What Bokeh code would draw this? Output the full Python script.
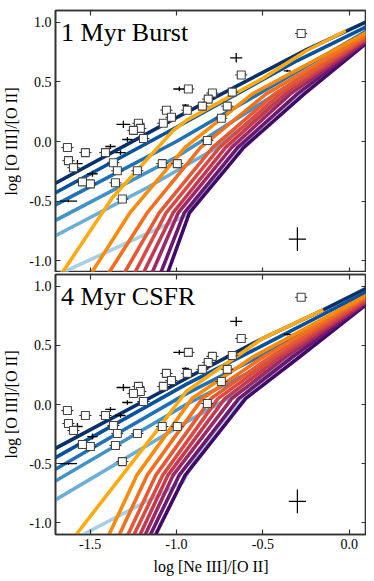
import numpy as np
from bokeh.plotting import figure
from bokeh.models import Range1d, LinearAxis, FixedTicker, PrintfTickFormatter, Label
from bokeh.layouts import column
from bokeh.embed import file_html
from bokeh.resources import INLINE

# ---------------- data ----------------
X_TICKS = [-1.5, -1.0, -0.5, 0.0]
Y_TICKS = [-1.0, -0.5, 0.0, 0.5, 1.0]

# observed points, open squares
sq_x = [-0.278, -0.625, -0.931, -0.792, -0.816, -0.850, -0.677, -0.706, -0.740, -0.937,
        -1.058, -1.029, -1.076, -1.220, -1.209, -1.249, -1.191, -0.821, -1.631, -1.527,
        -1.411, -1.625, -1.596, -1.365, -1.342, -1.353, -1.313, -1.226, -1.082, -0.995,
        -1.498, -1.544]
sq_y = [0.907, 0.559, 0.441, 0.407, 0.356, 0.297, 0.415, 0.297, 0.195, 0.263,
        0.263, 0.203, 0.153, 0.153, 0.110, 0.093, 0.025, 0.008, -0.051, -0.093,
        -0.093, -0.161, -0.220, -0.178, -0.246, -0.347, -0.483, -0.246, -0.186, -0.186,
        -0.356, -0.339]
sq_xerr = 0.035

# observed points shown only as error bars
cr_x = [-0.654, -0.983, -0.359, -1.307, -1.284, -1.382, -1.573, -1.486, -1.625, -1.324, -1.238, -0.948]
cr_y = [0.703, 0.441, 0.593, 0.144, 0.017, -0.042, -0.186, -0.271, -0.500, -0.093, 0.076, 0.305]
cr_xerr = [0.035, 0.035, 0.02, 0.04, 0.03, 0.03, 0.03, 0.03, 0.05, 0.03, 0.03, 0.02]
cr_yerr = [0.04, 0.02, 0.01, 0.03, 0.02, 0.02, 0.03, 0.025, 0.01, 0.02, 0.02, 0.01]

# typical error
rep_x = [-0.30]
rep_y = [-0.82]
rep_xerr = [0.05]
rep_yerr = [0.10]

# model tracks, 1 Myr burst
burst_vlblue = [(-1.72, -1.14), (-1.66, -1.10), (-1.0, -0.66), (-0.94, -0.62), (-0.83, -0.4),
                (-0.70, -0.15), (-0.49, 0.15), (-0.21, 0.5), (0.12, 0.86)]
burst_lblue = [(-1.75, -0.83), (-1.16, -0.38), (-0.8, -0.08), (-0.5, 0.25), (0.15, 0.92)]
burst_blue = [(-1.75, -0.70), (-1.0, -0.13), (-0.5, 0.33), (0.15, 0.95)]
burst_mblue = [(-1.75, -0.57), (-1.0, 0.0), (-0.5, 0.42), (0.15, 0.97)]
burst_dblue = [(-1.75, -0.47), (-1.0, 0.12), (-0.3, 0.68), (0.15, 1.0)]
burst_navy = [(-1.75, -0.39), (-1.0, 0.20), (-0.25, 0.77), (0.15, 1.04)]
burst_dpurple = [(-1.07, -1.17), (-1.05, -1.1), (-0.925, -0.6), (-0.61, -0.05), (-0.26, 0.4), (0.12, 0.85)]
burst_purple = [(-1.11, -1.17), (-1.09, -1.1), (-0.955, -0.6), (-0.645, -0.05), (-0.30, 0.4), (0.12, 0.86)]
burst_magenta = [(-1.16, -1.17), (-1.14, -1.1), (-0.99, -0.6), (-0.68, -0.05), (-0.34, 0.4), (0.12, 0.87)]
burst_crimson = [(-1.21, -1.17), (-1.19, -1.1), (-1.02, -0.6), (-0.715, -0.05), (-0.37, 0.4), (0.12, 0.88)]
burst_red = [(-1.26, -1.17), (-1.24, -1.1), (-1.06, -0.6), (-0.75, -0.05), (-0.40, 0.4), (0.12, 0.89)]
burst_redorange = [(-1.32, -1.17), (-1.30, -1.1), (-1.10, -0.6), (-0.79, -0.05), (-0.43, 0.4), (0.12, 0.90)]
burst_dorange = [(-1.42, -1.17), (-1.39, -1.1), (-1.17, -0.6), (-0.86, -0.05), (-0.48, 0.4), (0.12, 0.91)]
burst_orange = [(-1.52, -1.17), (-1.49, -1.1), (-1.27, -0.6), (-0.95, -0.05), (-0.56, 0.4), (0.12, 0.93)]
burst_yellow = [(-1.69, -1.17), (-1.66, -1.1), (-1.37, -0.47), (-1.02, 0.09), (-0.94, 0.18), (-0.5, 0.53),
                (-0.25, 0.76), (-0.02, 0.93)]

# model tracks, 4 Myr continuous SFR
csfr_vlblue = [(-1.6, -1.14), (-1.54, -1.10), (-0.964, -0.66), (-0.87, -0.4), (-0.71, -0.1),
               (-0.55, 0.15), (-0.24, 0.5), (0.12, 0.88)]
csfr_lblue = [(-1.75, -0.85), (-0.944, -0.15), (-0.5, 0.22), (0.15, 0.93)]
csfr_blue = [(-1.75, -0.69), (-0.944, 0.0), (-0.5, 0.33), (0.15, 0.95)]
csfr_mblue = [(-1.75, -0.59), (-0.944, 0.09), (-0.5, 0.42), (0.15, 0.97)]
csfr_dblue = [(-1.75, -0.49), (-0.944, 0.17), (-0.5, 0.50), (0.15, 0.99)]
csfr_navy = [(-1.75, -0.41), (-0.944, 0.22), (-0.5, 0.56), (-0.15, 0.80), (0.15, 1.02)]
csfr_dpurple = [(-1.14, -1.17), (-1.12, -1.1), (-0.95, -0.6), (-0.60, 0.05), (-0.29, 0.4), (0.12, 0.87)]
csfr_purple = [(-1.17, -1.17), (-1.15, -1.1), (-0.985, -0.6), (-0.64, 0.05), (-0.33, 0.4), (0.12, 0.88)]
csfr_magenta = [(-1.20, -1.17), (-1.18, -1.1), (-1.02, -0.6), (-0.68, 0.05), (-0.37, 0.4), (0.12, 0.89)]
csfr_crimson = [(-1.23, -1.17), (-1.21, -1.1), (-1.05, -0.6), (-0.72, 0.05), (-0.40, 0.4), (0.12, 0.90)]
csfr_red = [(-1.265, -1.17), (-1.245, -1.1), (-1.08, -0.6), (-0.76, 0.05), (-0.43, 0.4), (0.12, 0.91)]
csfr_redorange = [(-1.30, -1.17), (-1.28, -1.1), (-1.12, -0.6), (-0.80, 0.05), (-0.46, 0.4), (0.12, 0.92)]
csfr_dorange = [(-1.35, -1.17), (-1.33, -1.1), (-1.17, -0.6), (-0.85, 0.05), (-0.50, 0.4), (0.12, 0.93)]
csfr_orange = [(-1.42, -1.17), (-1.39, -1.1), (-1.23, -0.6), (-0.91, 0.05), (-0.56, 0.4), (0.12, 0.94)]
csfr_yellow = [(-1.62, -1.17), (-1.58, -1.1), (-1.118, -0.23), (-0.944, 0.11), (-0.5, 0.56), (-0.15, 0.80)]

C_VLBLUE, C_LBLUE, C_BLUE, C_MBLUE, C_DBLUE, C_NAVY = "#a9cfe6", "#6baed6", "#4292c6", "#2171b5", "#08519c", "#08306b"
C_DPURPLE, C_PURPLE, C_MAGENTA, C_CRIMSON = "#420a68", "#6c186d", "#9c2964", "#c03a50"
C_RED, C_REDORANGE, C_DORANGE, C_ORANGE, C_YELLOW = "#d84a42", "#e35a35", "#f06f20", "#f98c0a", "#fcab14"

burst_tracks = [(burst_vlblue, C_VLBLUE), (burst_lblue, C_LBLUE), (burst_blue, C_BLUE),
                (burst_mblue, C_MBLUE), (burst_dblue, C_DBLUE), (burst_navy, C_NAVY),
                (burst_dpurple, C_DPURPLE), (burst_purple, C_PURPLE), (burst_magenta, C_MAGENTA),
                (burst_crimson, C_CRIMSON), (burst_red, C_RED), (burst_redorange, C_REDORANGE),
                (burst_dorange, C_DORANGE), (burst_orange, C_ORANGE), (burst_yellow, C_YELLOW)]
csfr_tracks = [(csfr_vlblue, C_VLBLUE), (csfr_lblue, C_LBLUE), (csfr_blue, C_BLUE),
               (csfr_mblue, C_MBLUE), (csfr_dblue, C_DBLUE), (csfr_navy, C_NAVY),
               (csfr_dpurple, C_DPURPLE), (csfr_purple, C_PURPLE), (csfr_magenta, C_MAGENTA),
               (csfr_crimson, C_CRIMSON), (csfr_red, C_RED), (csfr_redorange, C_REDORANGE),
               (csfr_dorange, C_DORANGE), (csfr_orange, C_ORANGE), (csfr_yellow, C_YELLOW)]

FONT = "Liberation Serif"
FRAME = "#333333"


def style_axis(ax, labels):
    ax.axis_line_color = FRAME
    ax.axis_line_width = 1.6
    ax.major_tick_line_color = FRAME
    ax.major_tick_line_width = 1.2
    ax.major_tick_in = 5
    ax.major_tick_out = 0
    ax.minor_tick_line_color = None
    ax.major_label_text_font = FONT
    ax.axis_label_text_font = FONT
    ax.axis_label_text_font_style = "normal"
    ax.axis_label_text_color = "black"
    if labels:
        ax.major_label_text_color = "black"
        ax.major_label_text_font_size = "14px"
        ax.major_label_standoff = 4
    else:
        ax.major_label_text_color = None
        ax.major_label_text_font_size = "1px"
        ax.major_label_standoff = 0


def make_panel(title, tracks, frame_h, border_top, border_bottom, show_xlabels):
    p = figure(frame_width=311, frame_height=frame_h,
               x_range=Range1d(-1.7, 0.1), y_range=Range1d(-1.1, 1.1),
               output_backend="svg", toolbar_location=None,
               min_border_left=0, min_border_right=0,
               min_border_top=border_top, min_border_bottom=border_bottom)
    p.grid.visible = False
    p.outline_line_color = FRAME
    p.outline_line_width = 1.6
    p.background_fill_color = "white"
    p.border_fill_color = "white"

    p.xaxis.ticker = FixedTicker(ticks=X_TICKS)
    p.yaxis.ticker = FixedTicker(ticks=Y_TICKS)
    p.xaxis.formatter = PrintfTickFormatter(format="%.1f")
    p.yaxis.formatter = PrintfTickFormatter(format="%.1f")
    for ax in p.xaxis:
        style_axis(ax, show_xlabels)
    for ax in p.yaxis:
        style_axis(ax, True)
    p.yaxis.axis_label = "log [O III]/[O II]"
    p.yaxis.axis_label_text_font_size = "16px"
    p.yaxis.axis_label_standoff = 6
    if show_xlabels:
        p.xaxis.axis_label = "log [Ne III]/[O II]"
        p.xaxis.axis_label_text_font_size = "16px"
        p.xaxis.axis_label_standoff = 6

    top_ax = LinearAxis(ticker=FixedTicker(ticks=X_TICKS))
    style_axis(top_ax, False)
    p.add_layout(top_ax, "above")
    right_ax = LinearAxis(ticker=FixedTicker(ticks=Y_TICKS))
    style_axis(right_ax, False)
    p.add_layout(right_ax, "right")

    # model tracks
    for pts, col in tracks:
        xs = [a for a, b in pts]
        ys = [b for a, b in pts]
        p.line(xs, ys, line_color=col, line_width=3.6, line_join="round")

    # error-bar-only points
    cx, cy = np.array(cr_x), np.array(cr_y)
    cxe, cye = np.array(cr_xerr), np.array(cr_yerr)
    p.segment(cx - cxe, cy, cx + cxe, cy, line_color="black", line_width=1.3)
    p.segment(cx, cy - cye, cx, cy + cye, line_color="black", line_width=1.3)

    # square points with x error bars
    sx, sy = np.array(sq_x), np.array(sq_y)
    p.segment(sx - sq_xerr, sy, sx + sq_xerr, sy, line_color="#222222", line_width=1.0)
    p.scatter(sx, sy, marker="square", size=8, fill_color="white",
              line_color="#444444", line_width=1.1)

    # typical error
    rx, ry = np.array(rep_x), np.array(rep_y)
    rxe, rye = np.array(rep_xerr), np.array(rep_yerr)
    p.segment(rx - rxe, ry, rx + rxe, ry, line_color="black", line_width=1.2)
    p.segment(rx, ry - rye, rx, ry + rye, line_color="black", line_width=1.2)

    p.add_layout(Label(x=-1.668, y=0.912, text=title, text_font=FONT,
                       text_font_size="26px", text_color="black",
                       text_baseline="alphabetic"))
    return p


p1 = make_panel("1 Myr Burst", burst_tracks, 262, 10, 0, False)
p2 = make_panel("4 Myr CSFR", csfr_tracks, 260, 2, 0, True)

layout = column(p1, p2, spacing=0)
open("out.html", "w").write(file_html(layout, INLINE))
